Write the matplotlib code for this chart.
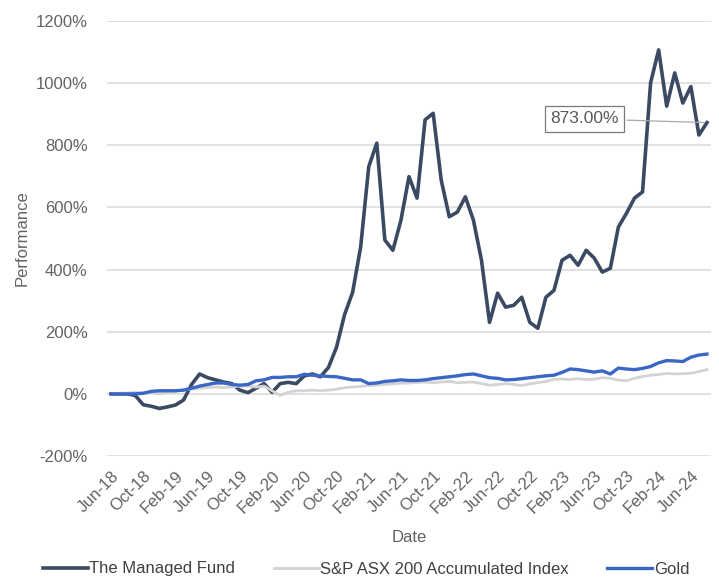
import matplotlib
matplotlib.use("Agg")
import matplotlib.pyplot as plt
from matplotlib.ticker import FuncFormatter

plt.rcParams['font.family'] = ['Liberation Sans', 'DejaVu Sans']

# monthly points, Jun-18 .. Aug-24
months = ["Jun", "Jul", "Aug", "Sep", "Oct", "Nov", "Dec", "Jan", "Feb", "Mar", "Apr", "May"]
dates = []
for i in range(75):
    m = (5 + i) % 12
    y = 18 + (5 + i) // 12
    dates.append(f"{months[(m - 5) % 12]}-{y}")

fund = [0, 0, 0, -5, -35, -40, -47, -42, -36, -20,
        30, 64, 52, 45, 38, 33, 12, 4, 18, 33,
        5, 33, 37, 33, 58, 64, 55, 85, 150, 255,
        327, 473, 731, 807, 495, 462, 559, 699, 630, 882,
        903, 688, 570, 585, 634, 559, 430, 230, 324, 279,
        285, 311, 230, 211, 311, 333, 430, 446, 414, 462,
        437, 392, 404, 537, 581, 630, 650, 1001, 1107, 926,
        1033, 936, 989, 833, 873]

asx200 = [0, 2, 3, 5, 2, 5, 0, 5, 8, 12,
          15, 18, 20, 22, 20, 22, 25, 25, 22, 25,
          10, -5, 5, 10, 10, 12, 10, 12, 15, 20,
          22, 24, 27, 28, 30, 32, 34, 35, 37, 38,
          36, 38, 40, 36, 37, 38, 33, 28, 30, 33,
          30, 27, 32, 36, 40, 47, 48, 46, 49, 46,
          47, 52, 50, 44, 42, 50, 56, 60, 62, 66,
          64, 65, 66, 72, 78]

gold = [0, 0, 0, 0, 2, 8, 10, 10, 10, 12,
        18, 25, 30, 35, 35, 30, 28, 30, 42, 45,
        53, 53, 55, 55, 63, 60, 58, 56, 55, 50,
        45, 45, 33, 35, 40, 42, 45, 43, 43, 45,
        49, 52, 55, 58, 62, 64, 58, 52, 50, 45,
        46, 49, 52, 55, 58, 60, 69, 80, 78, 74,
        70, 74, 64, 83, 80, 78, 82, 88, 100, 107,
        106, 104, 118, 125, 128]

x = list(range(len(dates)))

fig = plt.figure(figsize=(7.19, 5.77), dpi=100)
ax = fig.add_axes([107 / 719, 1 - 456 / 577, 604 / 719, 435 / 577])

ax.plot(x, fund, color='#3b4a63', lw=2.6, label='The Managed Fund', solid_joinstyle='round')
ax.plot(x, asx200, color='#d3d3d3', lw=2.0, label='S&P ASX 200 Accumulated Index')
ax.plot(x, gold, color='#3a67c6', lw=2.4, label='Gold')

ax.set_xlim(-0.5, len(dates) - 0.5)
ax.set_ylim(-200, 1200)
ax.set_yticks(range(-200, 1201, 200))
ax.yaxis.set_major_formatter(FuncFormatter(lambda v, p: f"{v:.0f}%"))
ax.grid(axis='y', color='#dedede', lw=1.3)
ax.set_axisbelow(True)
for s in ax.spines.values():
    s.set_visible(False)

ax.set_xticks(x[::4])
ax.set_xticklabels(dates[::4], rotation=45, ha='right', rotation_mode='anchor')
ax.tick_params(axis='both', length=0, labelsize=12, labelcolor='#636363')
ax.tick_params(axis='x', pad=9)
ax.tick_params(axis='y', pad=14)

ax.set_xlabel('Date', fontsize=12, color='#636363', labelpad=10)
ax.set_ylabel('Performance', fontsize=12, color='#636363', labelpad=4)

# last value callout
ax.annotate(f"{fund[-1]:.2f}%", xy=(x[-1], fund[-1]), xytext=(58.8, 885),
            ha='center', va='center', fontsize=12.5, color='#595959',
            bbox=dict(boxstyle='square,pad=0.3', fc='white', ec='#7a7a7a', lw=0.9),
            arrowprops=dict(arrowstyle='-', color='#a8a8a8', lw=0.9))

fig.legend(loc='center', bbox_to_anchor=(0.509, 1 - 569 / 577), ncol=3, frameon=False,
           fontsize=12, handlelength=2.7, handletextpad=0.1, columnspacing=2.3,
           labelcolor='#404040')

fig.savefig('out.png', dpi=100)
